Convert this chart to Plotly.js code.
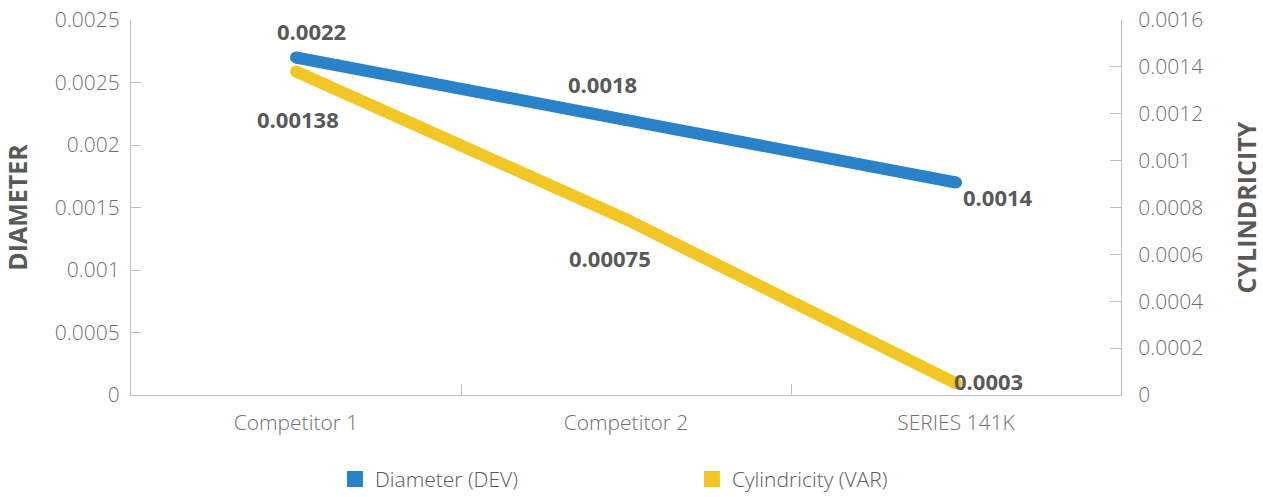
<!DOCTYPE html>
<html>
<head>
<meta charset="utf-8">
<script src="https://cdn.plot.ly/plotly-3.0.1.min.js"></script>
<style>
  html, body { margin: 0; padding: 0; background: #ffffff; }
  #chart { width: 1263px; height: 497px; }
</style>
</head>
<body>
<div id="chart"></div>
<script>
// ---- data ----
const categories = ["Competitor 1", "Competitor 2", "SERIES 141K"];
// values as drawn against each axis
const diameterValues = [0.0027, 0.0022, 0.0017];
const cylindricityValues = [0.00138, 0.00075, 0.00005];
// data labels as printed on the chart
const diameterLabels = ["0.0022", "0.0018", "0.0014"];
const cylindricityLabels = ["0.00138", "0.00075", "0.0003"];
// axis ticks
const leftTickVals = [0, 0.0005, 0.001, 0.0015, 0.002, 0.0025, 0.003];
const leftTickText = ["0", "0.0005", "0.001", "0.0015", "0.002", "0.0025", "0.0025"];
const rightTickVals = [0, 0.0002, 0.0004, 0.0006, 0.0008, 0.001, 0.0012, 0.0014, 0.0016];
const rightTickText = ["0", "0.0002", "0.0004", "0.0006", "0.0008", "0.001", "0.0012", "0.0014", "0.0016"];
const seriesNames = ["Diameter (DEV)", "Cylindricity (VAR)"];

const BLUE = "#2a82c8";
const YELLOW = "#f2c624";
const TICK_COLOR = "#707070";
const LABEL_COLOR = "#595959";
const AXIS_COLOR = "#bfbfbf";
const FONT = "Open Sans, Noto Sans, sans-serif";

const traces = [
  {
    x: categories, y: diameterValues, type: "scatter", mode: "lines+markers",
    line: { color: BLUE, width: 12 }, marker: { color: BLUE, size: 12 },
    yaxis: "y", showlegend: false, hoverinfo: "skip"
  },
  {
    x: categories, y: cylindricityValues, type: "scatter", mode: "lines+markers",
    line: { color: YELLOW, width: 12 }, marker: { color: YELLOW, size: 12 },
    yaxis: "y2", showlegend: false, hoverinfo: "skip"
  },
  // legend entries (square swatches)
  {
    x: [null], y: [null], type: "scatter", mode: "markers", name: seriesNames[0],
    marker: { color: BLUE, symbol: "square", size: 24 }, showlegend: true
  },
  {
    x: [null], y: [null], type: "scatter", mode: "markers", name: seriesNames[1],
    marker: { color: YELLOW, symbol: "square", size: 24 }, showlegend: true
  }
];

// label placement offsets (pixels)
const diaShift = [[15, 27], [-24, 36], [42, -14]];
const cylShift = [[2, -47], [-16, -39], [32, 2]];

const annotations = [];
categories.forEach((c, i) => {
  annotations.push({
    x: c, y: diameterValues[i], xref: "x", yref: "y", text: diameterLabels[i],
    showarrow: false, xshift: diaShift[i][0], yshift: diaShift[i][1],
    font: { family: FONT, size: 22, color: LABEL_COLOR, weight: 700 }
  });
  annotations.push({
    x: c, y: cylindricityValues[i], xref: "x", yref: "y2", text: cylindricityLabels[i],
    showarrow: false, xshift: cylShift[i][0], yshift: cylShift[i][1],
    font: { family: FONT, size: 22, color: LABEL_COLOR, weight: 700 }
  });
});

const layout = {
  width: 1263, height: 497,
  margin: { l: 131, r: 142, t: 20, b: 102, autoexpand: false },
  paper_bgcolor: "#ffffff", plot_bgcolor: "#ffffff",
  font: { family: FONT, color: TICK_COLOR, size: 19 },
  xaxis: {
    type: "category", tickson: "boundaries", ticks: "inside", ticklen: 11,
    tickcolor: AXIS_COLOR, showline: true, linecolor: AXIS_COLOR, linewidth: 1,
    showgrid: false, zeroline: false, range: [-0.5, 2.5], fixedrange: true,
    ticklabelstandoff: 9, automargin: false,
    tickfont: { family: FONT, size: 21, color: TICK_COLOR, weight: 300 }
  },
  yaxis: {
    range: [0, 0.003], tickvals: leftTickVals, ticktext: leftTickText,
    ticks: "inside", ticklen: 10, tickcolor: AXIS_COLOR,
    showline: true, linecolor: AXIS_COLOR, linewidth: 1,
    showgrid: false, zeroline: false, ticklabelstandoff: 6, automargin: false,
    tickfont: { family: FONT, size: 21, color: TICK_COLOR, weight: 300 },
    title: { text: "DIAMETER", standoff: 20,
      font: { family: FONT, size: 25, color: LABEL_COLOR, weight: 700 } }
  },
  yaxis2: {
    overlaying: "y", side: "right",
    range: [0, 0.0016], tickvals: rightTickVals, ticktext: rightTickText,
    ticks: "inside", ticklen: 11, tickcolor: AXIS_COLOR,
    showline: true, linecolor: AXIS_COLOR, linewidth: 1,
    showgrid: false, zeroline: false, ticklabelstandoff: 12, automargin: false,
    tickfont: { family: FONT, size: 21, color: TICK_COLOR, weight: 300 },
    title: { text: "CYLINDRICITY", standoff: 38,
      font: { family: FONT, size: 25, color: LABEL_COLOR, weight: 700 } }
  },
  legend: {
    orientation: "h", x: 0.206, xanchor: "left", y: -0.17, yanchor: "top",
    entrywidth: 312, entrywidthmode: "pixels",
    font: { family: FONT, size: 21, color: LABEL_COLOR, weight: 300 },
    bgcolor: "rgba(0,0,0,0)"
  },
  annotations: annotations,
  showlegend: true
};

Plotly.newPlot("chart", traces, layout, { displayModeBar: false, staticPlot: true });
</script>
</body>
</html>
